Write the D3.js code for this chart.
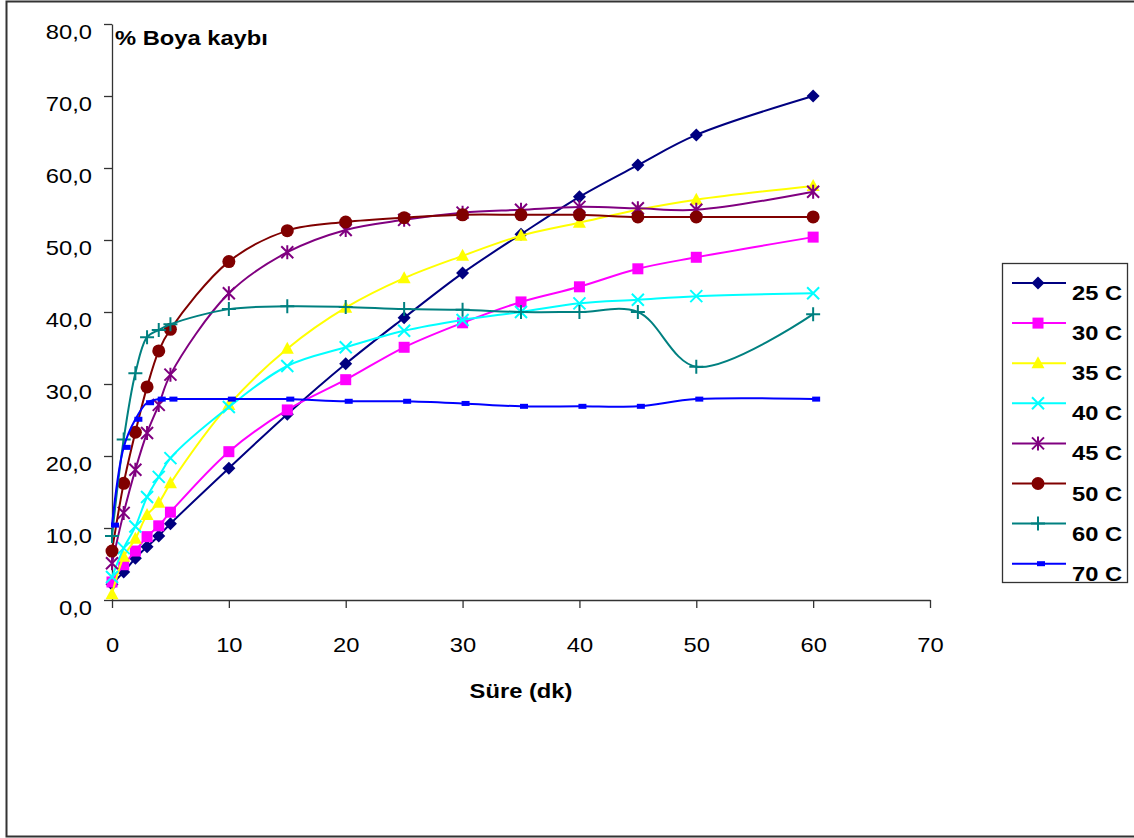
<!DOCTYPE html>
<html>
<head>
<meta charset="utf-8">
<script src="https://cdn.jsdelivr.net/npm/d3@7"></script>
<style>
  body { margin: 0; background: #fff; }
  svg { display: block; }
  text { font-family: "Liberation Sans", Arial, sans-serif; }
</style>
</head>
<body>
<div id="chart"></div>
<script>
// time in minutes
const times = [0, 1, 2, 3, 4, 5, 10, 15, 20, 25, 30, 35, 40, 45, 50, 60];

// % dye loss per temperature
const s25 = [2.2, 3.9, 5.8, 7.4, 8.9, 10.6, 18.3, 25.8, 32.8, 39.2, 45.4, 50.8, 56.0, 60.4, 64.6, 70.0];
const s30 = [2.5, 4.9, 6.8, 8.8, 10.3, 12.2, 20.6, 26.4, 30.6, 35.1, 38.5, 41.4, 43.5, 46.0, 47.6, 50.4];
const s35 = [0.8, 6.0, 8.5, 11.8, 13.5, 16.2, 27.1, 34.9, 40.6, 44.7, 47.8, 50.6, 52.4, 54.2, 55.6, 57.5];
const s40 = [3.2, 7.2, 10.2, 14.3, 17.1, 19.7, 26.8, 32.5, 35.1, 37.4, 38.9, 40.0, 41.2, 41.7, 42.2, 42.6];
const s45 = [5.1, 12.1, 18.1, 23.2, 27.1, 31.3, 42.6, 48.3, 51.4, 52.8, 53.8, 54.2, 54.6, 54.4, 54.2, 56.7];
const s50 = [6.8, 16.2, 23.3, 29.6, 34.6, 37.6, 47.0, 51.3, 52.5, 53.1, 53.5, 53.5, 53.5, 53.2, 53.2, 53.2];
const s60 = [8.9, 22.3, 31.5, 36.5, 37.5, 38.3, 40.4, 40.8, 40.7, 40.4, 40.3, 40.0, 40.0, 40.0, 32.4, 39.7];
const s70 = [10.4, 21.2, 25.1, 27.4, 27.9, 27.9, 27.9, 27.9, 27.6, 27.6, 27.3, 26.9, 26.9, 26.9, 27.9, 27.9];

const seriesNames = ["25 C", "30 C", "35 C", "40 C", "45 C", "50 C", "60 C", "70 C"];
const seriesValues = [s25, s30, s35, s40, s45, s50, s60, s70];

const xTicks = [0, 10, 20, 30, 40, 50, 60, 70];
const yTicks = [0, 10, 20, 30, 40, 50, 60, 70, 80];

const colors = ["#000080", "#FF00FF", "#FFFF00", "#00FFFF", "#800080", "#800000", "#008080", "#0000FF"];
const markers = ["diamond", "square", "triangle", "x", "star", "circle", "plus", "dash"];

const width = 1134, height = 838;
const sx = 1.13; // text in the original is stretched horizontally
const fs = "21px";

let svg = d3.select("#chart")
    .append("svg")
    .attr("width", width)
    .attr("height", height);

// outer frame
svg.append("rect")
    .attr("x", 6.5).attr("y", 1.5)
    .attr("width", 1130).attr("height", 835)
    .attr("fill", "none")
    .attr("stroke", "#333")
    .attr("stroke-width", 2);

let x = d3.scaleLinear().domain([0, 70]).range([112, 930]);
let y = d3.scaleLinear().domain([0, 80]).range([600, 24]);

const tr = d3.formatLocale({decimal: ",", thousands: ".", grouping: [3], currency: ["", ""]});
const fmt = tr.format(".1f");

// y axis
let yAxis = svg.append("g")
    .attr("transform", `translate(${x(0)},0)`)
    .call(d3.axisLeft(y).tickValues(yTicks).tickFormat(fmt).tickSize(8).tickSizeOuter(0));
yAxis.select(".domain").attr("stroke", "#333").attr("stroke-width", 1.3);
yAxis.selectAll(".tick line").attr("stroke", "#333").attr("stroke-width", 1.3);
yAxis.selectAll(".tick text")
    .attr("x", -20 / sx)
    .attr("dy", "0.35em")
    .attr("y", 7)
    .attr("transform", `scale(${sx},1)`)
    .style("font-size", fs)
    .style("font-family", "Liberation Sans, Arial, sans-serif")
    .attr("fill", "#000");

// x axis
let xAxis = svg.append("g")
    .attr("transform", `translate(0,${y(0)})`)
    .call(d3.axisBottom(x).tickValues(xTicks).tickFormat(d3.format("d")).tickSize(8).tickSizeOuter(0));
xAxis.select(".domain").attr("stroke", "#333").attr("stroke-width", 1.3);
xAxis.selectAll(".tick line").attr("stroke", "#333").attr("stroke-width", 1.3);
xAxis.selectAll(".tick")
    .each(function() {
        let t = d3.select(this).attr("transform");
        let px = +t.match(/translate\(([-\d.]+)/)[1];
        d3.select(this).select("text")
            .attr("x", px / sx)
            .attr("y", 52)
            .attr("dy", null)
            .attr("transform", `translate(${-px},0) scale(${sx},1)`);
    });
xAxis.selectAll(".tick text")
    .style("font-size", fs)
    .style("font-family", "Liberation Sans, Arial, sans-serif")
    .attr("fill", "#000");

// axis titles
svg.append("text")
    .attr("transform", `translate(115,45) scale(${sx},1)`)
    .style("font-size", fs)
    .style("font-weight", "bold")
    .text("% Boya kaybı");

svg.append("text")
    .attr("transform", `translate(${(x(0) + x(70)) / 2},698) scale(${sx},1)`)
    .style("text-anchor", "middle")
    .style("font-size", fs)
    .style("font-weight", "bold")
    .text("Süre (dk)");

function drawMarker(g, type, color) {
    if (type == "diamond") {
        g.append("path").attr("d", "M0,-6.5L6.5,0L0,6.5L-6.5,0Z").attr("fill", color);
    } else if (type == "square") {
        g.append("rect").attr("x", -5.5).attr("y", -5.5).attr("width", 11).attr("height", 11).attr("fill", color);
    } else if (type == "triangle") {
        g.append("path").attr("d", "M0,-7L6.5,5L-6.5,5Z").attr("fill", color);
    } else if (type == "x") {
        g.append("path").attr("d", "M-6,-6L6,6M-6,6L6,-6").attr("stroke", color).attr("stroke-width", 2);
    } else if (type == "star") {
        g.append("path").attr("d", "M-6,-6L6,6M-6,6L6,-6M0,-7L0,7").attr("stroke", color).attr("stroke-width", 2);
    } else if (type == "circle") {
        g.append("circle").attr("r", 6.5).attr("fill", color);
    } else if (type == "plus") {
        g.append("path").attr("d", "M-7,0L7,0M0,-7L0,7").attr("stroke", color).attr("stroke-width", 2);
    } else if (type == "dash") {
        g.append("rect").attr("x", -1).attr("y", -2.5).attr("width", 8).attr("height", 5).attr("fill", color);
    }
}

let line = d3.line()
    .x(function(d) { return x(d.t); })
    .y(function(d) { return y(d.v); })
    .curve(d3.curveCatmullRom);

let plot = svg.append("g");

seriesValues.forEach(function(vals, i) {
    let data = times.map(function(t, j) { return {t: t, v: vals[j]}; });
    let g = plot.append("g");
    g.append("path")
        .datum(data)
        .attr("fill", "none")
        .attr("stroke", colors[i])
        .attr("stroke-width", 2)
        .attr("d", line);
    g.selectAll(".m")
        .data(data)
        .enter()
        .append("g")
        .attr("class", "m")
        .attr("transform", function(d) { return `translate(${x(d.t)},${y(d.v)})`; })
        .each(function() { drawMarker(d3.select(this), markers[i], colors[i]); });
});

// legend
let legend = svg.append("g");
legend.append("rect")
    .attr("x", 1002.5).attr("y", 263.5)
    .attr("width", 125).attr("height", 319)
    .attr("fill", "#fff")
    .attr("stroke", "#333")
    .attr("stroke-width", 1.3);

seriesNames.forEach(function(name, i) {
    let ly = 283 + i * 40.1;
    let g = legend.append("g");
    g.append("line")
        .attr("x1", 1012).attr("x2", 1066)
        .attr("y1", ly).attr("y2", ly)
        .attr("stroke", colors[i])
        .attr("stroke-width", 2);
    let m = g.append("g").attr("transform", `translate(1038,${ly})`);
    drawMarker(m, markers[i], colors[i]);
    g.append("text")
        .attr("transform", `translate(1072,${ly + 17}) scale(${sx},1)`)
        .style("font-size", fs)
        .style("font-weight", "bold")
        .text(name);
});
</script>
</body>
</html>
